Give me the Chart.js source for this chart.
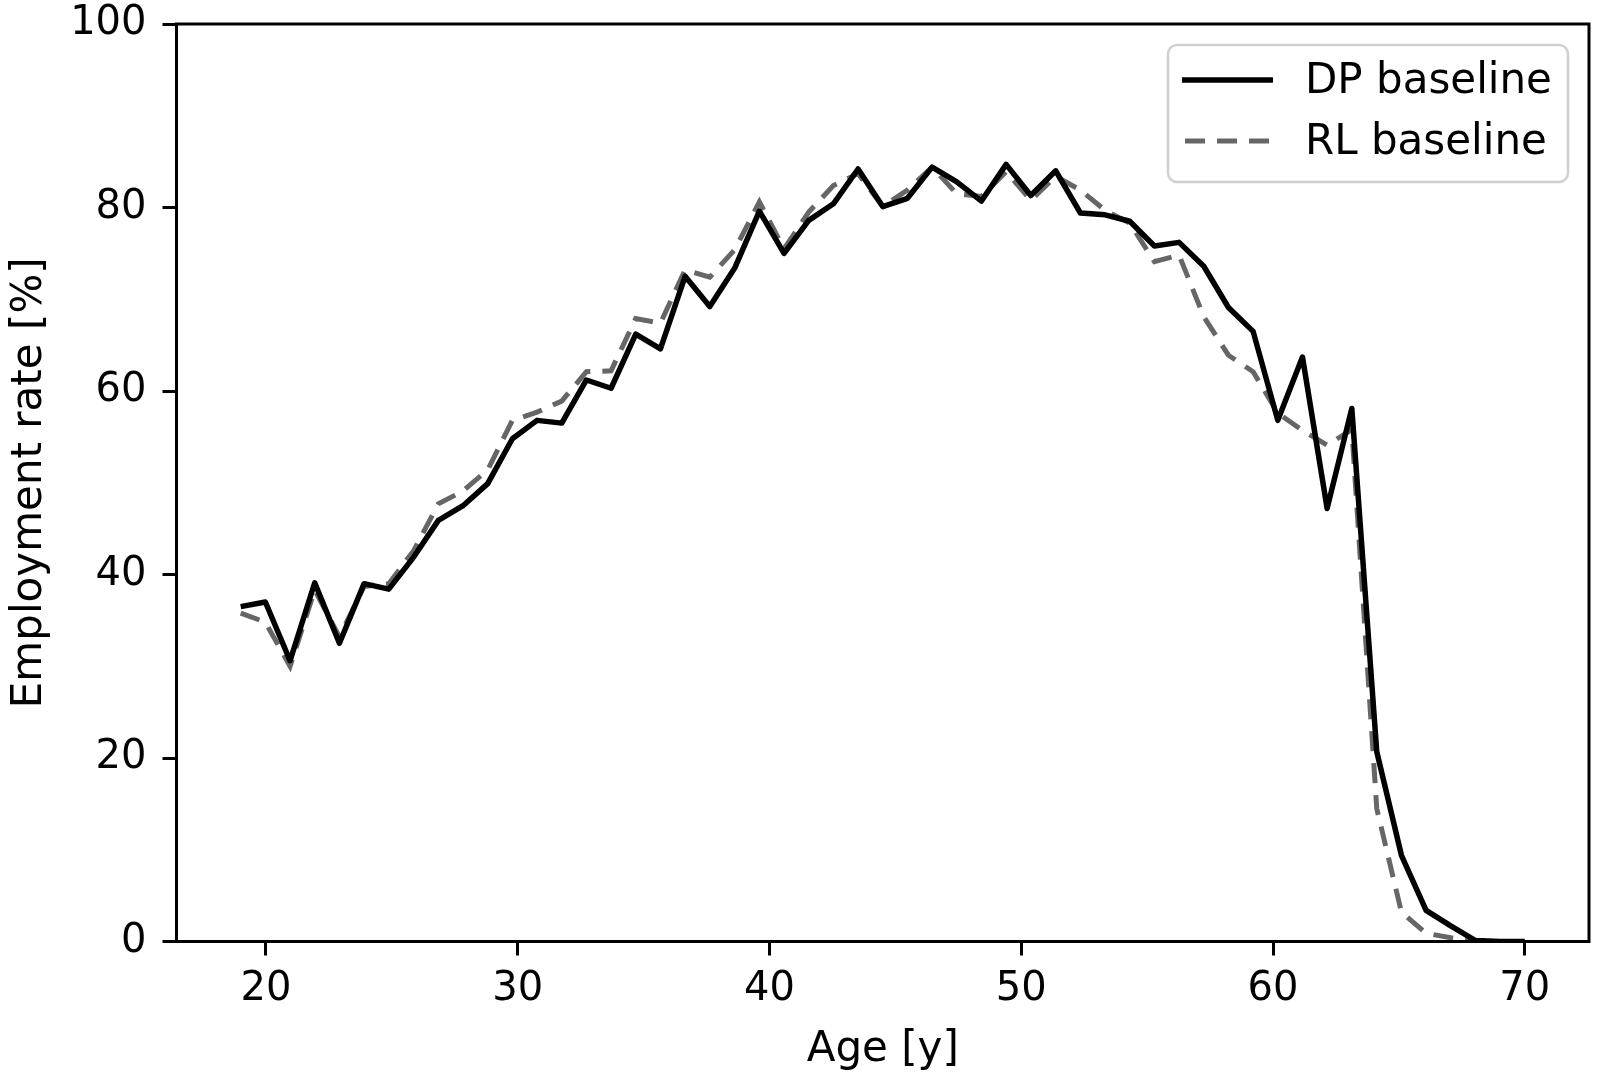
<!DOCTYPE html>
<html><head><meta charset="utf-8">
<script src="https://cdn.jsdelivr.net/npm/chart.js@4.4.1/dist/chart.umd.min.js"></script>
<style>html,body{margin:0;padding:0;background:#fff;}#wrap{width:1600px;height:1078px;}</style>
</head><body><div id="wrap"><canvas id="c" width="1600" height="1078"></canvas></div>
<script>
// Age grid (x values)
const ages = [19.00,19.98,20.96,21.94,22.92,23.90,24.88,25.87,26.85,27.83,
  28.81,29.79,30.77,31.75,32.73,33.71,34.69,35.67,36.65,37.63,
  38.62,39.60,40.58,41.56,42.54,43.52,44.50,45.48,46.46,47.44,
  48.42,49.40,50.38,51.37,52.35,53.33,54.31,55.29,56.27,57.25,
  58.23,59.21,60.19,61.17,62.15,63.13,64.12,65.10,66.08,67.06,
  68.04,69.02,70.00];
// Employment rate [%]
const dpBaseline = [36.5,37.0,30.6,39.1,32.5,39.0,38.4,41.9,45.9,47.5,
  49.9,54.8,56.8,56.5,61.2,60.3,66.2,64.6,72.5,69.2,
  73.4,79.6,75.0,78.6,80.4,84.2,80.1,81.0,84.4,82.8,
  80.7,84.7,81.3,84.0,79.4,79.2,78.5,75.8,76.2,73.6,
  69.1,66.5,56.8,63.7,47.2,58.1,20.7,9.4,3.4,1.7,
  0.1,0.0,0.0];
const rlBaseline = [35.8,34.8,30.0,38.3,33.2,38.7,39.0,42.6,47.7,49.1,
  51.4,56.8,57.7,58.9,62.1,62.2,67.9,67.4,73.2,72.4,
  75.4,80.6,75.5,79.5,82.4,83.7,80.1,81.9,84.4,81.5,
  81.2,83.9,80.8,83.4,81.9,79.7,78.3,74.1,74.8,68.1,
  63.9,62.1,57.6,55.7,54.1,55.8,14.5,3.2,0.9,0.4,
  0.1,0.0,0.0];
const seriesNames = ['DP baseline','RL baseline'];
const xTicks = [20,30,40,50,60,70];
const yTicks = [0,20,40,60,80,100];
const xLabel = 'Age [y]';
const yLabel = 'Employment rate [%]';

const FONT = 'DejaVu Sans';
const toPts = (xs, ys) => xs.map((x, i) => ({x: x, y: ys[i]}));

const framePlugin = {
  id: 'frame',
  afterDatasetsDraw(chart) {
    const {ctx, chartArea: a} = chart;
    ctx.save();
    ctx.strokeStyle = '#000';
    ctx.lineWidth = 3;
    ctx.strokeRect(a.left, a.top, a.right - a.left, a.bottom - a.top);
    ctx.restore();
  }
};

const legendPlugin = {
  id: 'boxLegend',
  afterDraw(chart) {
    const ctx = chart.ctx;
    ctx.save();
    const bx = 1168, by = 45, bw = 400, bh = 137, r = 9;
    ctx.beginPath();
    ctx.moveTo(bx + r, by);
    ctx.arcTo(bx + bw, by, bx + bw, by + bh, r);
    ctx.arcTo(bx + bw, by + bh, bx, by + bh, r);
    ctx.arcTo(bx, by + bh, bx, by, r);
    ctx.arcTo(bx, by, bx + bw, by, r);
    ctx.closePath();
    ctx.fillStyle = 'rgba(255,255,255,0.8)';
    ctx.fill();
    ctx.strokeStyle = '#d0d0d0';
    ctx.lineWidth = 2.5;
    ctx.stroke();
    const rows = [80, 141];
    chart.data.datasets.forEach((ds, i) => {
      const y = rows[i];
      const dashed = (ds.borderDash || []).length > 0;
      ctx.beginPath();
      ctx.setLineDash(ds.borderDash || []);
      ctx.lineDashOffset = 0;
      ctx.strokeStyle = ds.borderColor;
      ctx.lineWidth = ds.borderWidth;
      ctx.lineCap = 'butt';
      ctx.moveTo(dashed ? 1185 : 1182, y);
      ctx.lineTo(dashed ? 1269 : 1273, y);
      ctx.stroke();
      ctx.setLineDash([]);
      ctx.fillStyle = '#000';
      ctx.font = '42px "' + FONT + '"';
      ctx.textBaseline = 'middle';
      ctx.textAlign = 'left';
      ctx.fillText(ds.label, 1305, y + 2);
    });
    ctx.restore();
  }
};

new Chart(document.getElementById('c'), {
  type: 'line',
  data: {
    datasets: [
      {label: seriesNames[0], data: toPts(ages, dpBaseline), borderColor: '#000000',
       borderWidth: 5.5, pointRadius: 0, tension: 0, fill: false, borderJoinStyle: 'round'},
      {label: seriesNames[1], data: toPts(ages, rlBaseline), borderColor: '#666666',
       borderWidth: 5, borderDash: [20, 12], pointRadius: 0, tension: 0, fill: false}
    ]
  },
  options: {
    responsive: false,
    animation: false,
    devicePixelRatio: 1,
    layout: {padding: {left: 0, right: 11, top: 24, bottom: 0}},
    plugins: {legend: {display: false}, tooltip: {enabled: false}},
    scales: {
      x: {
        type: 'linear', min: 16.45, max: 72.55,
        afterBuildTicks: s => { s.ticks = xTicks.map(v => ({value: v})); },
        afterFit: s => { s.height = 136.5; s.paddingLeft = 0; s.paddingRight = 0; },
        ticks: {color: '#000', font: {family: FONT, size: 40}, padding: 10, autoSkip: false, maxRotation: 0},
        grid: {display: true, drawOnChartArea: false, drawTicks: true, tickLength: 14, tickWidth: 3, tickColor: '#000'},
        border: {display: false},
        title: {display: true, text: xLabel, color: '#000', font: {family: FONT, size: 42}, padding: {top: 3, bottom: 3}}
      },
      y: {
        type: 'linear', min: 0, max: 100,
        afterBuildTicks: s => { s.ticks = yTicks.map(v => ({value: v})); },
        afterFit: s => { s.width = 176.5; s.paddingTop = 0; s.paddingBottom = 0; },
        ticks: {color: '#000', font: {family: FONT, size: 40}, padding: 16},
        grid: {display: true, drawOnChartArea: false, drawTicks: true, tickLength: 14, tickWidth: 3, tickColor: '#000'},
        border: {display: false},
        title: {display: true, text: yLabel, color: '#000', font: {family: FONT, size: 42}, padding: {top: 5, bottom: 5}}
      }
    }
  },
  plugins: [framePlugin, legendPlugin]
});
</script>
</body></html>
